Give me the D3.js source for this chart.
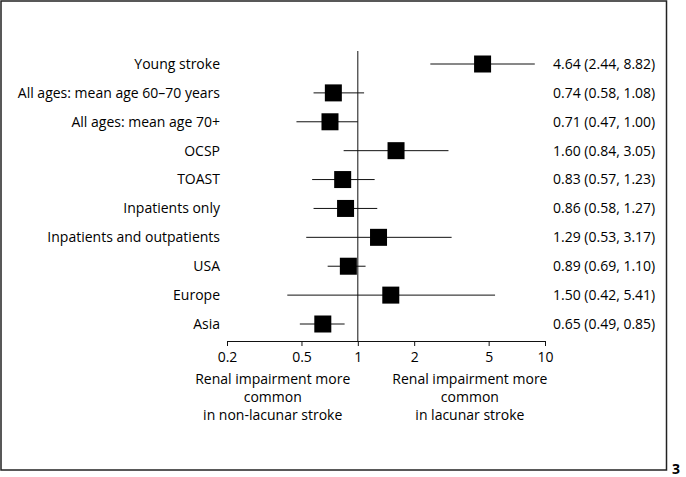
<!DOCTYPE html>
<html>
<head>
<meta charset="utf-8">
<script src="https://cdn.jsdelivr.net/npm/d3@7"></script>
<style>
  html, body { margin: 0; padding: 0; background: #fff; }
  svg { display: block; }
  text { font-family: "Open Sans", "Noto Sans", sans-serif; fill: #000; }
</style>
</head>
<body>
<svg id="chart" width="686" height="477"></svg>
<script>
const categories = ["Young stroke", "All ages: mean age 60\u201370 years", "All ages: mean age 70+", "OCSP", "TOAST", "Inpatients only", "Inpatients and outpatients", "USA", "Europe", "Asia"];
const estimates = [4.64, 0.74, 0.71, 1.60, 0.83, 0.86, 1.29, 0.89, 1.50, 0.65];
const lowerCI = [2.44, 0.58, 0.47, 0.84, 0.57, 0.58, 0.53, 0.69, 0.42, 0.49];
const upperCI = [8.82, 1.08, 1.00, 3.05, 1.23, 1.27, 3.17, 1.10, 5.41, 0.85];
const tickValues = [0.2, 0.5, 1, 2, 5, 10];
const tickLabels = ["0.2", "0.5", "1", "2", "5", "10"];
const leftNote = ["Renal impairment more", "common", "in non-lacunar stroke"];
const rightNote = ["Renal impairment more", "common", "in lacunar stroke"];

const svg = d3.select("#chart");
const fs = 14;

// frame
svg.append("rect").attr("x", 1).attr("y", 1).attr("width", 665.5).attr("height", 469)
  .attr("fill", "none").attr("stroke", "#222").attr("stroke-width", 1.5);
svg.append("text").attr("x", 672).attr("y", 474).attr("font-weight", "bold").attr("font-size", 14).text("3");

const x = d3.scaleLog().domain([0.2, 10]).range([227, 545]);
const y = d3.scalePoint().domain(categories).range([64, 324]);
const axisY = 341;

// reference line
svg.append("line").attr("x1", x(1)).attr("x2", x(1)).attr("y1", 51).attr("y2", axisY)
  .attr("stroke", "#111").attr("stroke-width", 1);

const data = categories.map((c, i) => ({c, est: estimates[i], lo: lowerCI[i], hi: upperCI[i]}));

// CI lines
svg.selectAll("line.ci").data(data).enter().append("line").attr("class", "ci")
  .attr("x1", d => x(d.lo)).attr("x2", d => x(d.hi))
  .attr("y1", d => y(d.c)).attr("y2", d => y(d.c))
  .attr("stroke", "#111").attr("stroke-width", 1);

// boxes
const bs = 17;
svg.selectAll("rect.box").data(data).enter().append("rect").attr("class", "box")
  .attr("x", d => x(d.est) - bs / 2).attr("y", d => y(d.c) - bs / 2)
  .attr("width", bs).attr("height", bs).attr("fill", "#000");

// category labels
svg.selectAll("text.cat").data(data).enter().append("text").attr("class", "cat")
  .attr("x", 220).attr("y", d => y(d.c)).attr("dy", "0.35em")
  .attr("text-anchor", "end").attr("font-size", fs).text(d => d.c);

// value labels
svg.selectAll("text.val").data(data).enter().append("text").attr("class", "val")
  .attr("x", 553).attr("y", d => y(d.c)).attr("dy", "0.35em")
  .attr("font-size", fs)
  .text(d => `${d.est.toFixed(2)} (${d.lo.toFixed(2)}, ${d.hi.toFixed(2)})`);

// axis
const axis = d3.axisBottom(x).tickValues(tickValues).tickFormat((d, i) => tickLabels[i]).tickSize(5).tickSizeOuter(0);
const ag = svg.append("g").attr("transform", `translate(0,${axisY})`).call(axis);
ag.select(".domain").attr("stroke", "#111");
ag.selectAll(".tick line").attr("stroke", "#111");
ag.selectAll(".tick text").attr("font-size", fs).attr("font-family", "'Open Sans', 'Noto Sans', sans-serif").attr("fill", "#000").attr("dy", "0.9em");

// notes
const noteY = [379, 397, 415];
svg.selectAll("text.ln").data(leftNote).enter().append("text").attr("class", "ln")
  .attr("x", x(0.351)).attr("y", (d, i) => noteY[i]).attr("dy", "0.35em")
  .attr("text-anchor", "middle").attr("font-size", fs).text(d => d);
svg.selectAll("text.rn").data(rightNote).enter().append("text").attr("class", "rn")
  .attr("x", x(3.97)).attr("y", (d, i) => noteY[i]).attr("dy", "0.35em")
  .attr("text-anchor", "middle").attr("font-size", fs).text(d => d);
</script>
</body>
</html>
